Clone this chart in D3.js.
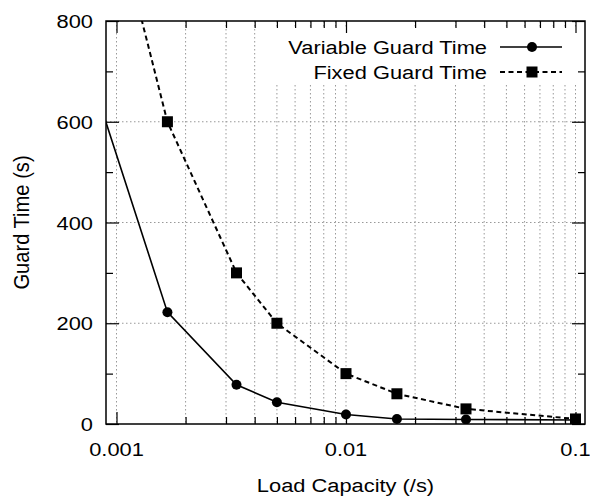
<!DOCTYPE html>
<html><head><meta charset="utf-8">
<script src="https://cdn.jsdelivr.net/npm/d3@7"></script>
<style>body{margin:0;background:#fff}svg{display:block}text{font-family:"Liberation Sans",Arial,sans-serif;fill:#000}</style>
</head><body><svg id="c" width="590" height="497"></svg>
<script>
// data
const loadCapacity = [1/1200, 1/600, 1/300, 1/200, 1/100, 1/60, 1/30, 1/10];
const variableGuard = [646, 222, 78, 43, 19, 10, 9, 8];
const fixedX = [1/1000, 1/600, 1/300, 1/200, 1/100, 1/60, 1/30, 1/10];
const fixedGuard = [1000, 600, 300, 200, 100, 60, 30, 10];
const xMajorTicks = [0.001, 0.01, 0.1];
const xTickLabels = ["0.001", "0.01", "0.1"];
const yMajorTicks = [0, 200, 400, 600, 800];
const yMinorTicks = [100, 300, 500, 700];
const seriesNames = ["Variable Guard Time", "Fixed Guard Time"];

const svg = d3.select("#c");
const L = 106, R = 585, T = 21, B = 424;
const FS = 19, SX = 1.15;
const x = d3.scaleLog().domain([0.0009, 0.11]).range([L, R]);
const y = d3.scaleLinear().domain([0, 800]).range([B, T]);

function htext(g, tx, ty, str, anchor) {
  return g.append("text").attr("transform", `translate(${tx},${ty}) scale(${SX},1)`)
    .attr("text-anchor", anchor).attr("font-size", FS).text(str);
}

svg.append("defs").append("clipPath").attr("id", "clip")
  .append("rect").attr("x", L).attr("y", T).attr("width", R - L).attr("height", B - T);

// minor x ticks
const xMinor = [];
[0.001, 0.01].forEach(d => { for (let k = 1; k <= 9; k++) xMinor.push(d * k); });
xMinor.push(0.1);

// grid
const grid = svg.append("g").attr("stroke", "#999").attr("stroke-width", 1).attr("stroke-dasharray", "1.5,2.5");
grid.selectAll(".vg").data(xMinor).join("line")
  .attr("x1", d => x(d)).attr("x2", d => x(d)).attr("y1", T).attr("y2", B);
grid.selectAll(".hg").data([200, 400, 600]).join("line")
  .attr("x1", L).attr("x2", R).attr("y1", d => y(d)).attr("y2", d => y(d));

// legend background
svg.append("rect").attr("x", 268).attr("y", 29).attr("width", R - 268 - 1).attr("height", 55).attr("fill", "#fff");

// axes via d3 axis generators
const isMajor = d => xMajorTicks.some(m => Math.abs(m - d) / m < 1e-9);
const xb = svg.append("g").attr("transform", `translate(0,${B})`)
  .call(d3.axisTop(x).tickValues(xMinor).tickSize(0).tickFormat(""));
xb.selectAll(".tick line").attr("y2", d => isMajor(d) ? -12 : -7).attr("stroke", "#000").attr("stroke-width", 1.2);
const xt = svg.append("g").attr("transform", `translate(0,${T})`)
  .call(d3.axisBottom(x).tickValues(xMinor).tickSize(0).tickFormat(""));
xt.selectAll(".tick line").attr("y2", d => isMajor(d) ? 12 : 7).attr("stroke", "#000").attr("stroke-width", 1.2);
[xb, xt].forEach(g => g.select(".domain").remove());

const yl = svg.append("g").attr("transform", `translate(${L},0)`)
  .call(d3.axisRight(y).tickValues(yMajorTicks.concat(yMinorTicks)).tickSize(0).tickFormat(""));
yl.selectAll(".tick line").attr("x2", d => d % 200 === 0 ? 13 : 7).attr("stroke", "#000").attr("stroke-width", 1.2);
const yr = svg.append("g").attr("transform", `translate(${R},0)`)
  .call(d3.axisLeft(y).tickValues(yMajorTicks.concat(yMinorTicks)).tickSize(0).tickFormat(""));
yr.selectAll(".tick line").attr("x2", d => d % 200 === 0 ? -13 : -7).attr("stroke", "#000").attr("stroke-width", 1.2);
[yl, yr].forEach(g => g.select(".domain").remove());

// tick labels
const lab = svg.append("g");
xMajorTicks.forEach((d, i) => htext(lab, x(d), 456, xTickLabels[i], "middle"));
yMajorTicks.forEach(d => htext(lab, 93, y(d) + 7, String(d), "end"));

// axis titles
htext(svg, (L + R) / 2, 492, "Load Capacity (/s)", "middle");
svg.append("text").attr("transform", `translate(29,${(T + B) / 2}) rotate(-90) scale(1.06,1.15)`)
  .attr("text-anchor", "middle").attr("font-size", FS).text("Guard Time (s)");

// series
const plot = svg.append("g").attr("clip-path", "url(#clip)");
const line = d3.line().x(d => x(d[0])).y(d => y(d[1]));
const vData = loadCapacity.map((d, i) => [d, variableGuard[i]]);
const fData = fixedX.map((d, i) => [d, fixedGuard[i]]);
plot.append("path").datum(vData).attr("d", line).attr("fill", "none").attr("stroke", "#000").attr("stroke-width", 1.6);
plot.append("path").datum(fData).attr("d", line).attr("fill", "none").attr("stroke", "#000").attr("stroke-width", 2).attr("stroke-dasharray", "5,3.5");
const inDom = d => d[0] >= 0.0009 && d[0] <= 0.11 && d[1] >= 0 && d[1] <= 800;
plot.selectAll(".c").data(vData.filter(inDom)).join("circle")
  .attr("cx", d => x(d[0])).attr("cy", d => y(d[1])).attr("r", 5).attr("fill", "#000");
plot.selectAll(".s").data(fData.filter(inDom)).join("rect")
  .attr("x", d => x(d[0]) - 5.5).attr("y", d => y(d[1]) - 5.5).attr("width", 11).attr("height", 11).attr("fill", "#000");

// frame
svg.append("rect").attr("x", L).attr("y", T).attr("width", R - L).attr("height", B - T)
  .attr("fill", "none").attr("stroke", "#000").attr("stroke-width", 1.5);

// legend
const lg = svg.append("g");
const rows = [47, 72];
htext(lg, 487, rows[0] + 7, seriesNames[0], "end");
htext(lg, 487, rows[1] + 7, seriesNames[1], "end");
lg.append("line").attr("x1", 500).attr("x2", 562).attr("y1", rows[0]).attr("y2", rows[0]).attr("stroke", "#000").attr("stroke-width", 1.6);
lg.append("circle").attr("cx", 532).attr("cy", rows[0]).attr("r", 5).attr("fill", "#000");
lg.append("line").attr("x1", 500).attr("x2", 562).attr("y1", rows[1]).attr("y2", rows[1]).attr("stroke", "#000").attr("stroke-width", 2).attr("stroke-dasharray", "5,3.5");
lg.append("rect").attr("x", 526.5).attr("y", rows[1] - 5.5).attr("width", 11).attr("height", 11).attr("fill", "#000");
</script></body></html>
